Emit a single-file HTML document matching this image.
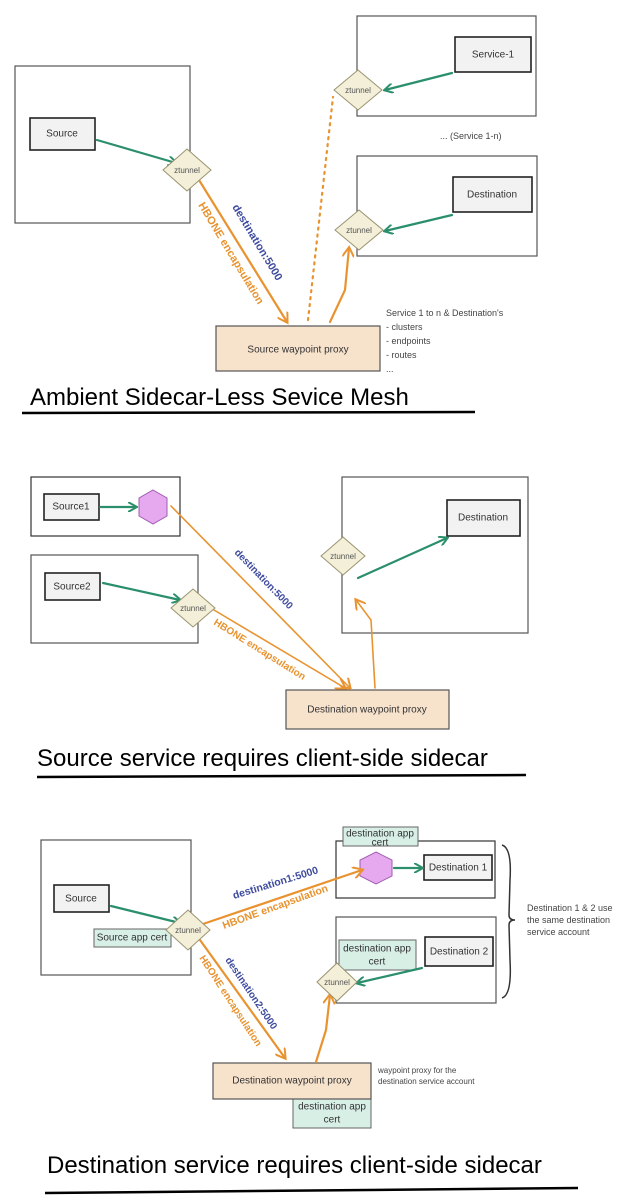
<!DOCTYPE html>
<html><head><meta charset="utf-8"><style>
html,body{margin:0;padding:0;background:#fff;}
svg{display:block}
text{font-family:"Liberation Sans",sans-serif;}
.n{font-size:10px;fill:#333;text-anchor:middle;dominant-baseline:middle}
.z{font-size:8px;fill:#555;text-anchor:middle;dominant-baseline:middle}
.s{font-size:9px;fill:#444}
.t{font-size:24px;fill:#000}
</style></head><body>
<svg width="631" height="1200" viewBox="0 0 631 1200" xmlns="http://www.w3.org/2000/svg">
<defs>
<marker id="g" markerWidth="10" markerHeight="10" refX="8" refY="5" orient="auto" markerUnits="userSpaceOnUse"><path d="M0,0 L9,5 L0,10" fill="none" stroke="#2a8f6a" stroke-width="2"/></marker>
<marker id="o" markerWidth="12" markerHeight="12" refX="9" refY="6" orient="auto" markerUnits="userSpaceOnUse"><path d="M0,0 L10,6 L0,12" fill="none" stroke="#e8932f" stroke-width="2"/></marker>
</defs>
<g fill="none" stroke="#555" stroke-width="1.2">
<rect x="15" y="66" width="175" height="157"/>
<rect x="357" y="16" width="179" height="100"/>
<rect x="357" y="156" width="180" height="100"/>
<rect x="31" y="477" width="149" height="59" stroke="#333"/>
<rect x="31" y="555" width="167" height="88"/>
<rect x="342" y="477" width="186" height="156"/>
<rect x="41" y="840" width="150" height="135"/>
<rect x="336" y="841" width="159" height="57" stroke="#333"/>
<rect x="336" y="917" width="160" height="86"/>
</g>
<g fill="#f2f2f2" stroke="#222" stroke-width="1.6">
<rect x="30" y="118" width="65" height="32"/>
<rect x="455" y="37" width="76" height="35"/>
<rect x="453" y="177" width="79" height="35"/>
<rect x="44" y="494" width="55" height="26"/>
<rect x="45" y="573" width="55" height="27"/>
<rect x="447" y="500" width="73" height="36"/>
<rect x="54" y="885" width="55" height="27"/>
<rect x="424" y="855" width="68" height="25"/>
<rect x="425" y="937" width="68" height="29"/>
</g>
<g class="n">
<text x="62" y="134" class="n">Source</text>
<text x="493" y="55" class="n">Service-1</text>
<text x="492" y="195" class="n">Destination</text>
<text x="71" y="507" class="n" font-size="9">Source1</text>
<text x="72" y="587" class="n" font-size="9">Source2</text>
<text x="483" y="518" class="n">Destination</text>
<text x="81" y="899" class="n" font-size="9">Source</text>
<text x="458" y="868" class="n" font-size="9">Destination 1</text>
<text x="459" y="952" class="n" font-size="9">Destination 2</text>
</g>
<g fill="#d8efe6" stroke="#666" stroke-width="1">
<rect x="94" y="929" width="77" height="18"/>
<rect x="343" y="827" width="75" height="19"/>
<rect x="339" y="940" width="77" height="30"/>
<rect x="293" y="1099" width="78" height="29"/>
</g>
<g class="n" font-size="9">
<text x="132" y="938" class="n" font-size="9">Source app cert</text>
<text x="380" y="834" class="n" font-size="8.5">destination app</text>
<text x="380" y="843" class="n" font-size="8.5">cert</text>
<text x="377" y="949" class="n" font-size="8.5">destination app</text>
<text x="377" y="962" class="n" font-size="8.5">cert</text>
<text x="332" y="1107" class="n" font-size="8.5">destination app</text>
<text x="332" y="1120" class="n" font-size="8.5">cert</text>
</g>
<g fill="#f7e2cc" stroke="#555" stroke-width="1.2">
<rect x="216" y="326" width="164" height="45"/>
<rect x="286" y="690" width="163" height="39"/>
<rect x="213" y="1063" width="158" height="36"/>
</g>
<text x="298" y="350" class="n" font-size="11">Source waypoint proxy</text>
<text x="367" y="710" class="n" font-size="10">Destination waypoint proxy</text>
<text x="292" y="1081" class="n" font-size="10">Destination waypoint proxy</text>
<g fill="#e6a8ee" stroke="#a05cb0" stroke-width="1">
<polygon points="153,490 167,498 167,516 153,524 139,516 139,498"/>
<polygon points="376,852 392,860 392,876 376,884 360,876 360,860"/>
</g>
<g fill="none" stroke-width="2.2" stroke-linecap="round">
<line x1="97" y1="140" x2="176" y2="163" stroke="#2a8f6a" marker-end="url(#g)"/>
<line x1="452" y1="73" x2="385" y2="90" stroke="#2a8f6a" marker-end="url(#g)"/>
<line x1="452" y1="215" x2="385" y2="231" stroke="#2a8f6a" marker-end="url(#g)"/>
<line x1="199" y1="180" x2="287" y2="322" stroke="#e8932f" marker-end="url(#o)"/>
<line x1="308" y1="320" x2="333" y2="97" stroke="#e8932f" stroke-dasharray="2,5"/>
<polyline points="330,322 345,290 349,248" stroke="#e8932f" marker-end="url(#o)"/>

<line x1="100" y1="507" x2="136" y2="507" stroke="#2a8f6a" marker-end="url(#g)"/>
<line x1="103" y1="583" x2="180" y2="600" stroke="#2a8f6a" marker-end="url(#g)"/>
<line x1="171" y1="506" x2="350" y2="688" stroke="#e8932f" marker-end="url(#o)" stroke-width="1.6"/>
<line x1="214" y1="610" x2="345" y2="688" stroke="#e8932f" marker-end="url(#o)" stroke-width="1.6"/>
<polyline points="375,688 371,620 356,600" stroke="#e8932f" marker-end="url(#o)" stroke-width="1.6"/>
<line x1="358" y1="578" x2="447" y2="538" stroke="#2a8f6a" marker-end="url(#g)"/>

<line x1="111" y1="906" x2="180" y2="923" stroke="#2a8f6a" marker-end="url(#g)"/>
<line x1="200" y1="925" x2="362" y2="870" stroke="#e8932f" marker-end="url(#o)"/>
<line x1="394" y1="868" x2="422" y2="868" stroke="#2a8f6a" marker-end="url(#g)"/>
<line x1="200" y1="940" x2="285" y2="1058" stroke="#e8932f" marker-end="url(#o)"/>
<polyline points="316,1062 326,1030 330,995" stroke="#e8932f" marker-end="url(#o)"/>
<line x1="422" y1="968" x2="357" y2="983" stroke="#2a8f6a" marker-end="url(#g)"/>
</g>
<g fill="#f3efd9" stroke="#9a9370" stroke-width="1">
<polygon points="187,149 211,170 187,191 163,170"/>
<polygon points="358,70 382,90 358,110 334,90"/>
<polygon points="359,210 383,230 359,250 335,230"/>
<polygon points="193,589 215,608 193,627 171,608"/>
<polygon points="343,537 365,556 343,575 321,556"/>
<polygon points="188,910 210,930 188,950 166,930"/>
<polygon points="337,963 357,982 337,1001 317,982"/>
</g>
<text x="187" y="171" class="z">ztunnel</text>
<text x="358" y="91" class="z">ztunnel</text>
<text x="359" y="231" class="z">ztunnel</text>
<text x="193" y="609" class="z">ztunnel</text>
<text x="343" y="557" class="z">ztunnel</text>
<text x="188" y="931" class="z">ztunnel</text>
<text x="337" y="983" class="z">ztunnel</text>
<text transform="translate(198,205) rotate(59)" font-size="11" fill="#e8932f" font-weight="bold">HBONE encapsulation</text>
<text transform="translate(232,207) rotate(59)" font-size="11" fill="#3d4a9e" font-weight="bold">destination:5000</text>
<text transform="translate(234,553) rotate(46)" font-size="10" fill="#3d4a9e" font-weight="bold">destination:5000</text>
<text transform="translate(213,624) rotate(32)" font-size="10" fill="#e8932f" font-weight="bold">HBONE encapsulation</text>
<text transform="translate(234,899) rotate(-17)" font-size="10.5" fill="#3d4a9e" font-weight="bold">destination1:5000</text>
<text transform="translate(224,929) rotate(-20)" font-size="10.5" fill="#e8932f" font-weight="bold">HBONE encapsulation</text>
<text transform="translate(225,960) rotate(56)" font-size="10" fill="#3d4a9e" font-weight="bold">destination2:5000</text>
<text transform="translate(199,958) rotate(57)" font-size="10" fill="#e8932f" font-weight="bold">HBONE encapsulation</text>
<text x="440" y="139" class="s">... (Service 1-n)</text>
<g class="s">
<text x="386" y="316">Service 1 to n &amp; Destination's</text>
<text x="386" y="330">- clusters</text>
<text x="386" y="344">- endpoints</text>
<text x="386" y="358">- routes</text>
<text x="386" y="372">...</text>
<text x="527" y="911">Destination 1 &amp; 2 use</text>
<text x="527" y="923">the same destination</text>
<text x="527" y="935">service account</text>
<text x="378" y="1073" font-size="8">waypoint proxy for the</text>
<text x="378" y="1084" font-size="8">destination service account</text>
</g>
<path d="M502,845 Q512,848 510,880 L509,915 Q509,920 515,920 Q509,920 509,925 L510,960 Q512,995 502,998" fill="none" stroke="#333" stroke-width="1.5"/>
<text x="30" y="405" class="t">Ambient Sidecar-Less Sevice Mesh</text>
<line x1="22" y1="413" x2="475" y2="412" stroke="#000" stroke-width="2.5"/>
<text x="37" y="766" class="t">Source service requires client-side sidecar</text>
<line x1="37" y1="777" x2="526" y2="775" stroke="#000" stroke-width="2.5"/>
<text x="47" y="1173" class="t">Destination service requires client-side sidecar</text>
<line x1="45" y1="1193" x2="578" y2="1188" stroke="#000" stroke-width="2.5"/>
</svg>
</body></html>
